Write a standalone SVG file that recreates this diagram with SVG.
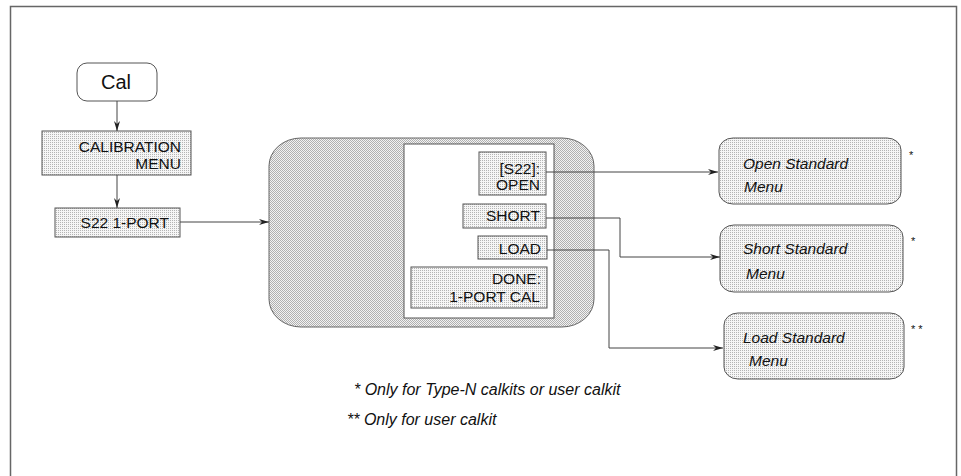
<svg xmlns="http://www.w3.org/2000/svg" width="961" height="476" viewBox="0 0 961 476">
<style>
  .box { stroke: #555; stroke-width: 1; fill: url(#dots); }
  .big { stroke: #666; stroke-width: 1; fill: url(#dense); }
  .t { font-family: "Liberation Sans", Arial, sans-serif; font-size: 15.5px; fill: #111; }
  .r { text-anchor: end; }
  .i { font-style: italic; }
  .c { stroke: #444; stroke-width: 1; fill: none; }
</style>
<defs>
  <pattern id="dots" width="2" height="2" patternUnits="userSpaceOnUse">
    <rect width="2" height="2" fill="#f6f6f6"/>
    <rect width="1" height="1" fill="#b4b4b4"/>
  </pattern>
  <pattern id="dense" width="2" height="2" patternUnits="userSpaceOnUse">
    <rect width="2" height="2" fill="#f2f2f2"/>
    <rect width="1" height="1" fill="#b0b0b0"/>
    <rect x="1" y="1" width="1" height="1" fill="#b0b0b0"/>
  </pattern>
  <marker id="ah" viewBox="0 0 10 6" refX="10" refY="3" markerWidth="10" markerHeight="6" markerUnits="userSpaceOnUse" orient="auto">
    <path d="M0,0 L10,3 L0,6 L3,3 Z" fill="#222"/>
  </marker>
</defs>
<rect x="0" y="0" width="961" height="476" fill="#fff"/>
<rect x="10.5" y="6.5" width="946" height="480" fill="none" stroke="#666" stroke-width="1.5"/>

<g id="cal">
  <rect x="77" y="63" width="80" height="38" rx="10" ry="10" fill="#fff" stroke="#555"/>
  <text class="t" x="116" y="89" text-anchor="middle" style="font-size:20px">Cal</text>
</g>
<g id="calibration-menu">
  <rect class="box" x="42" y="131" width="149" height="44"/>
  <text class="t r" x="181" y="152">CALIBRATION</text>
  <text class="t r" x="181" y="169">MENU</text>
</g>
<g id="s22-1port">
  <rect class="box" x="55" y="208" width="125" height="29"/>
  <text class="t r" x="169" y="228">S22 1-PORT</text>
</g>

<g id="menu-panel">
  <rect class="big" x="269" y="138" width="325" height="189" rx="32" ry="28"/>
  <rect x="404" y="144" width="150" height="174" fill="#fff" stroke="#555"/>
</g>
<g id="s22-open">
  <rect class="box" x="479" y="152" width="67" height="43"/>
  <text class="t r" x="540" y="174">[S22]:</text>
  <text class="t r" x="540" y="190">OPEN</text>
</g>
<g id="short">
  <rect class="box" x="463" y="204" width="83" height="24"/>
  <text class="t r" x="540" y="221">SHORT</text>
</g>
<g id="load">
  <rect class="box" x="478" y="236" width="69" height="23"/>
  <text class="t r" x="541" y="254">LOAD</text>
</g>
<g id="done">
  <rect class="box" x="411" y="267" width="136" height="41"/>
  <text class="t r" x="541" y="284">DONE:</text>
  <text class="t r" x="540" y="302">1-PORT CAL</text>
</g>

<g id="open-standard">
  <rect class="box" x="719" y="138" width="182" height="66" rx="14" ry="12"/>
  <text class="t i" x="743" y="169">Open Standard</text>
  <text class="t i" x="744" y="192">Menu</text>
  <text class="t" x="909" y="159" style="font-size:11px">*</text>
</g>
<g id="short-standard">
  <rect class="box" x="720" y="225" width="183" height="67" rx="14" ry="12"/>
  <text class="t i" x="743" y="254">Short Standard</text>
  <text class="t i" x="746" y="279">Menu</text>
  <text class="t" x="911" y="245" style="font-size:11px">*</text>
</g>
<g id="load-standard">
  <rect class="box" x="724" y="313" width="180" height="66" rx="14" ry="12"/>
  <text class="t i" x="743" y="343">Load Standard</text>
  <text class="t i" x="749" y="366">Menu</text>
  <text class="t" x="911" y="333" style="font-size:11px">* *</text>
</g>

<g id="notes">
  <text class="t i" x="354" y="395" style="font-size:16px">* Only for Type-N calkits or user calkit</text>
  <text class="t i" x="347" y="425" style="font-size:16px">** Only for user calkit</text>
</g>

<g id="connectors">
  <path class="c" d="M117,101 V131" marker-end="url(#ah)"/>
  <path class="c" d="M117,175 V208" marker-end="url(#ah)"/>
  <path class="c" d="M180,222 H269" marker-end="url(#ah)"/>
  <path class="c" d="M546,172 H718" marker-end="url(#ah)"/>
  <path class="c" d="M546,218 H620 V257 H720" marker-end="url(#ah)"/>
  <path class="c" d="M547,250 H609 V348 H723" marker-end="url(#ah)"/>
</g>
</svg>
